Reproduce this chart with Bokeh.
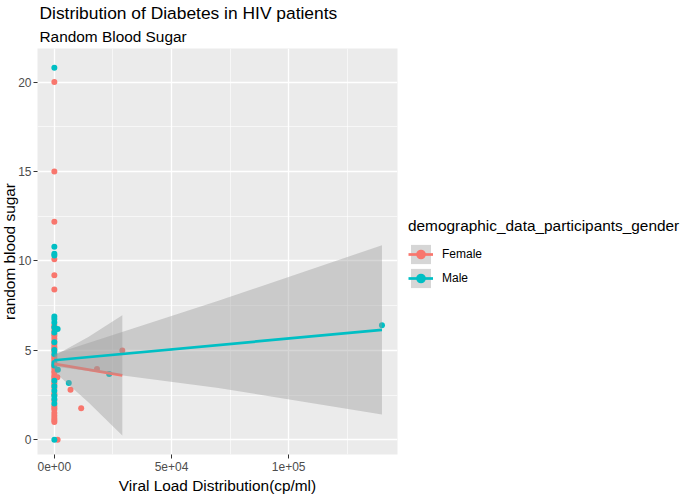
from bokeh.plotting import figure
from bokeh.models import Range1d, FixedTicker, Legend, LegendItem, Title
from bokeh.layouts import row
from bokeh.embed import file_html
from bokeh.resources import INLINE

FONT = "Liberation Sans"
FEMALE_COLOR = "#F8766D"
MALE_COLOR = "#00BFC4"
BAND_COLOR = "#999999"
NAN = float("nan")

# ---- data ----
female_viral_load = [0, 0, 0, 0, 0, 0, 0, 0, 0, 0, 0, 0, 0, 0, 0, 0, 0, 0, 0, 0, 0, 0,
                     0, 0, 0, 0, 0, 0, 0, 0, 0, 0, 0, 0, 0, 0, 0, 0, 0, 0, 0, 0, 0,
                     1300, 1400, 6900, 11450, 18200, 29000]
female_sugar = [20.0, 15.0, 12.2, 10.1, 9.2, 8.4, 6.4, 6.3, 6.1, 5.9, 5.8, 5.65, 5.5, 5.35,
                5.2, 5.1, 4.95, 4.7, 4.6, 4.5, 4.4, 4.2, 4.1, 4.0, 3.85, 3.75, 3.6, 3.5,
                3.4, 3.2, 3.1, 2.9, 2.6, 2.5, 2.2, 1.9, 1.8, 1.7, 1.5, 1.35, 1.2, 1.1, 1.0,
                3.5, 0.0, 2.8, 1.76, 3.96, 5.0]

male_viral_load = [0, 0, 0, 0, 0, 0, 0, 0, 0, 0, 0, 0, 0, 0, 0, 0, 0, 0, 0, 0, 0,
                   1400, 1500, 6150, 23400, 139800]
male_sugar = [20.8, 10.8, 10.4, 10.3, 6.9, 6.75, 6.56, 6.28, 6.0, 5.45, 5.02, 4.8, 4.3,
              4.15, 3.3, 3.0, 2.75, 2.47, 2.29, 2.03, 0.0,
              6.2, 3.92, 3.18, 3.68, 6.4]

# linear fits and 95% confidence bands
female_fit_x = [0, 29000]
female_fit_y = [4.25, 3.6]
female_band_x = [0, 14500, 29000]
female_band_lo = [3.8, 2.1, 0.24]
female_band_hi = [4.7, 5.75, 6.97]

male_fit_x = [0, 139800]
male_fit_y = [4.45, 6.15]
male_band_x = [0, 70000, 139800]
male_band_lo = [4.1, 2.9, 1.41]
male_band_hi = [4.8, 7.77, 10.88]

x_tick_values = [0, 50000, 100000]
x_tick_labels = ["0e+00", "5e+04", "1e+05"]
x_minor_values = [25000, 75000, 125000]
y_tick_values = [0, 5, 10, 15, 20]
y_minor_values = [2.5, 7.5, 12.5, 17.5]

legend_labels = ["Female", "Male"]
legend_colors = [FEMALE_COLOR, MALE_COLOR]

# ---- main figure ----
W, H = 685, 499
MAIN_W = 404

p = figure(width=MAIN_W, height=H, output_backend="svg", toolbar_location=None,
           title=None,
           x_range=Range1d(-7190, 146430), y_range=Range1d(-0.82, 21.88),
           background_fill_color="#EBEBEB", border_fill_color="white",
           outline_line_color=None,
           min_border_left=0, min_border_right=7,
           min_border_top=0, min_border_bottom=45)

# points (under the smooths)
p.scatter(female_viral_load, female_sugar, size=6, color=FEMALE_COLOR, line_color=None)
p.scatter(male_viral_load, male_sugar, size=6, color=MALE_COLOR, line_color=None)

# smooths
p.varea(x=female_band_x, y1=female_band_lo, y2=female_band_hi,
        fill_color=BAND_COLOR, fill_alpha=0.4)
p.line(female_fit_x, female_fit_y, line_color=FEMALE_COLOR, line_width=2.7)
p.varea(x=male_band_x, y1=male_band_lo, y2=male_band_hi,
        fill_color=BAND_COLOR, fill_alpha=0.4)
p.line(male_fit_x, male_fit_y, line_color=MALE_COLOR, line_width=2.7)

# axes
p.xaxis.ticker = FixedTicker(ticks=x_tick_values, minor_ticks=x_minor_values)
p.xaxis.major_label_overrides = dict(zip(x_tick_values, x_tick_labels))
p.yaxis.ticker = FixedTicker(ticks=y_tick_values, minor_ticks=y_minor_values)
for ax in (p.xaxis, p.yaxis):
    ax.axis_line_color = None
    ax.major_tick_line_color = "#333333"
    ax.major_tick_line_width = 1
    ax.major_tick_out = 4
    ax.major_tick_in = 0
    ax.minor_tick_line_color = None
    ax.minor_tick_out = 0
    ax.major_label_text_font = FONT
    ax.major_label_text_font_size = "12px"
    ax.major_label_text_color = "#4D4D4D"
p.xaxis.major_label_standoff = 3
p.yaxis.major_label_standoff = 2

for g in (p.xgrid, p.ygrid):
    g.grid_line_color = "white"
    g.grid_line_width = 1.3
    g.minor_grid_line_color = "white"
    g.minor_grid_line_width = 0.6

# axis titles
p.add_layout(Title(text="Viral Load Distribution(cp/ml)", text_font=FONT,
                   text_font_size="15.4px", text_font_style="normal", text_color="black",
                   align="center", standoff=3), "below")
y_title = Title(text="random blood sugar", text_font=FONT,
                text_font_size="15.4px", text_font_style="normal", text_color="black",
                align="center", standoff=0)
try:
    y_title.standoff = -4
except Exception:
    y_title.standoff = 0
p.add_layout(y_title, "left")

# titles (subtitle first so that it sits nearer the plot)
p.add_layout(Title(text="Random Blood Sugar", text_font=FONT, text_font_size="15.4px",
                   text_font_style="normal", text_color="black", align="left",
                   standoff=7, offset=2), "above")
p.add_layout(Title(text="Distribution of Diabetes in HIV patients", text_font=FONT,
                   text_font_size="17.4px", text_font_style="normal", text_color="black",
                   align="left", standoff=0, offset=2), "above")

# ---- legend panel ----
lg = figure(width=W - MAIN_W, height=H, output_backend="svg", toolbar_location=None,
            title=None, x_axis_type=None, y_axis_type=None,
            x_range=Range1d(0, 1), y_range=Range1d(0, 1),
            background_fill_color="white", border_fill_color="white",
            outline_line_color=None,
            min_border_left=0, min_border_right=0, min_border_top=0, min_border_bottom=0)
lg.xgrid.visible = False
lg.ygrid.visible = False

items = []
for label, color in zip(legend_labels, legend_colors):
    # legend-only renderers (no visible data)
    band = lg.varea(x=[NAN], y1=[NAN], y2=[NAN], fill_color=BAND_COLOR, fill_alpha=0.4)
    ln = lg.line(x=[NAN], y=[NAN], line_color=color, line_width=2.7)
    pt = lg.scatter(x=[NAN], y=[NAN], size=6, color=color, line_color=None)
    items.append(LegendItem(label=label, renderers=[band, ln, pt]))

legend = Legend(items=items,
                location=(4, 164), title="demographic_data_participants_gender",
                title_text_font=FONT, title_text_font_size="15.4px",
                title_text_font_style="normal", title_text_color="black",
                title_standoff=7,
                label_text_font=FONT, label_text_font_size="12px", label_text_color="black",
                glyph_width=25, glyph_height=24, label_height=24, spacing=0,
                label_standoff=9, padding=0, margin=0,
                background_fill_color="white", border_line_color=None)
lg.add_layout(legend, "center")

layout = row(p, lg)
open("out.html", "w").write(file_html(layout, INLINE))
